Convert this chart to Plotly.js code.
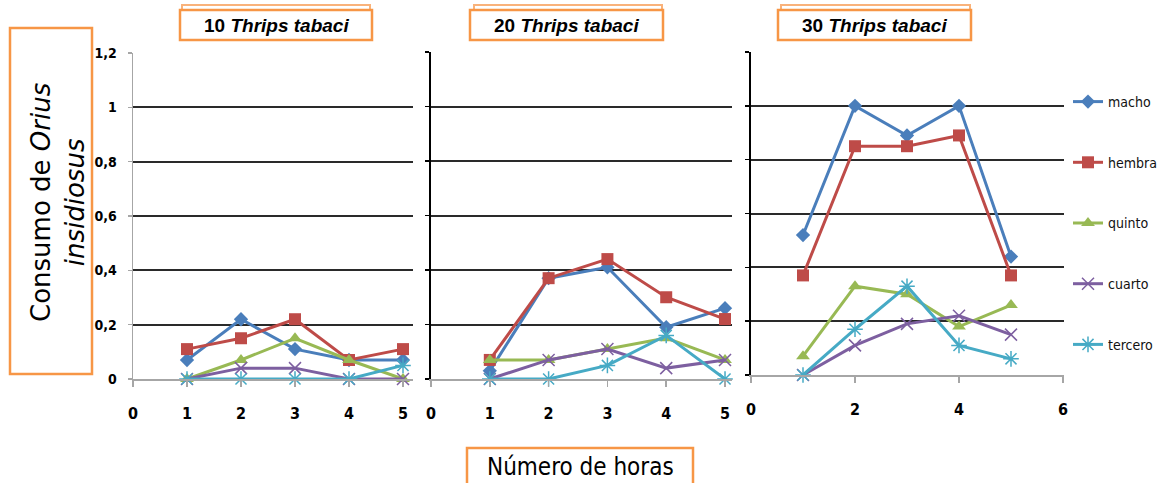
<!DOCTYPE html>
<html>
<head>
<meta charset="utf-8">
<script src="https://cdn.plot.ly/plotly-3.0.1.min.js"></script>
<style>
html,body{margin:0;padding:0;background:#fff;overflow:hidden;}
#chart{width:1161px;height:483px;}
</style>
</head>
<body>
<div id="chart"></div>
<script>
// ---- data ----
const hours = [1, 2, 3, 4, 5];
const seriesNames = ["macho", "hembra", "quinto", "cuarto", "tercero"];
const panelTitles = ["10 <i>Thrips tabaci</i>", "20 <i>Thrips tabaci</i>", "30 <i>Thrips tabaci</i>"];
const yTickVals = [0, 0.2, 0.4, 0.6, 0.8, 1, 1.2];
const yTickText = ["0", "0,2", "0,4", "0,6", "0,8", "1", "1,2"];
const xTickVals5 = [0, 1, 2, 3, 4, 5];
const xTickVals6 = [0, 2, 4, 6];
const yTitle = "Consumo de <i>Orius</i><br><i>insidiosus</i>";
const xTitle = "Número de horas";

const macho10   = [0.07, 0.22, 0.11, 0.07, 0.07];
const hembra10  = [0.11, 0.15, 0.22, 0.07, 0.11];
const quinto10  = [0, 0.07, 0.15, 0.07, 0];
const cuarto10  = [0, 0.04, 0.04, 0, 0];
const tercero10 = [0, 0, 0, 0, 0.05];

const macho20   = [0.03, 0.37, 0.41, 0.19, 0.26];
const hembra20  = [0.07, 0.37, 0.44, 0.30, 0.22];
const quinto20  = [0.07, 0.07, 0.11, 0.15, 0.07];
const cuarto20  = [0, 0.07, 0.11, 0.04, 0.07];
const tercero20 = [0, 0, 0.05, 0.16, 0];

const macho30   = [0.52, 1.0, 0.89, 1.0, 0.44];
const hembra30  = [0.37, 0.85, 0.85, 0.89, 0.37];
const quinto30  = [0.07, 0.33, 0.30, 0.18, 0.26];
const cuarto30  = [0, 0.11, 0.19, 0.22, 0.15];
const tercero30 = [0, 0.17, 0.33, 0.11, 0.06];

// ---- styles ----
const colors = ["#4A7EBB", "#BE4B48", "#98B954", "#7D5FA0", "#46AAC5"];
const symbols = ["diamond", "square", "triangle-up", "x-thin-open", "asterisk-open"];
const msizes = [11, 12, 12, 12, 13];

const W = 1161, H = 483;
const px = v => v / W;
const py = v => 1 - v / H;

const panels = [
  [macho10, hembra10, quinto10, cuarto10, tercero10],
  [macho20, hembra20, quinto20, cuarto20, tercero20],
  [macho30, hembra30, quinto30, cuarto30, tercero30]
];
const axSuffix = ["", "2", "3"];

const traces = [];
panels.forEach((pdata, p) => {
  pdata.forEach((vals, s) => {
    traces.push({
      type: "scatter",
      mode: "lines+markers",
      x: hours,
      y: vals,
      name: seriesNames[s],
      xaxis: "x" + axSuffix[p],
      yaxis: "y" + axSuffix[p],
      showlegend: p === 2,
      legendgroup: "g" + s,
      line: {color: colors[s], width: 3},
      marker: {symbol: symbols[s], size: msizes[s], color: colors[s],
               line: {color: colors[s], width: (s >= 3 ? 1.5 : 0)}},
      cliponaxis: false
    });
  });
});

const narrow = "DejaVu Sans Condensed, Liberation Sans, sans-serif";
const yTickFont = {family: narrow, size: 14, color: "#000", weight: "bold"};
const xTickFont = {family: narrow, size: 16, color: "#000", weight: "bold"};

function yAxisBase(dom, showLabels, lineColor, lineWidth) {
  return {
    domain: dom, range: [0, 1.2], tickvals: yTickVals, ticktext: yTickText,
    showticklabels: showLabels, tickfont: yTickFont,
    showgrid: true, gridcolor: "#2a2a2a", gridwidth: 2,
    zeroline: false, showline: true, linecolor: lineColor, linewidth: lineWidth,
    ticks: "outside", ticklen: 4, tickcolor: lineColor, tickwidth: 1.5,
    fixedrange: true, ticklabelstandoff: 8, automargin: false
  };
}
function xAxisBase(dom, rng, tv, anchor) {
  return {
    domain: dom, range: rng, tickvals: tv, anchor: anchor,
    showgrid: false, zeroline: false, showline: true, linecolor: "#a6a6a6", linewidth: 2,
    ticks: "outside", ticklen: 6, tickcolor: "#a6a6a6", tickwidth: 1.5,
    tickfont: xTickFont, ticklabelstandoff: 13, fixedrange: true, automargin: false
  };
}

const orange = "#F79646";
function box(x0, y0, x1, y1, w, c, fill) {
  return {type: "rect", xref: "paper", yref: "paper", x0: px(x0), x1: px(x1), y0: py(y1), y1: py(y0),
          line: {color: c || orange, width: w || 2.5}, fillcolor: fill || "rgba(255,255,255,0)", layer: "above"};
}
const titleFont = {family: "Liberation Sans, Arial, sans-serif", size: 19, color: "#000", weight: "bold"};
function ann(x, y, text, font, extra) {
  return Object.assign({xref: "paper", yref: "paper", x: px(x), y: py(y), xanchor: "center", yanchor: "middle",
                        text: text, showarrow: false, font: font}, extra || {});
}

const layout = {
  width: W, height: H,
  margin: {l: 0, r: 0, t: 0, b: 0, pad: 0, autoexpand: false},
  paper_bgcolor: "#fff", plot_bgcolor: "#fff",
  separators: ",.",
  xaxis:  xAxisBase([px(133), px(413)], [0, 280 / 54], xTickVals5, "y"),
  yaxis:  yAxisBase([py(379), py(53)], true, "#a6a6a6", 1.5),
  xaxis2: xAxisBase([px(431), px(732)], [0, 302 / 59], xTickVals5, "y2"),
  yaxis2: Object.assign(yAxisBase([py(379), py(52)], false, "#000", 2.5), {anchor: "x2"}),
  xaxis3: xAxisBase([px(751), px(1064)], [0, 313 / 52], xTickVals6, "y3"),
  yaxis3: Object.assign(yAxisBase([py(375), py(52)], false, "#000", 2.5), {anchor: "x3"}),
  showlegend: true,
  legend: {
    x: px(1068), y: py(86), xanchor: "left", yanchor: "top",
    font: {family: narrow, size: 14, color: "#111"},
    tracegroupgap: 39.5, itemwidth: 30, bgcolor: "rgba(0,0,0,0)", traceorder: "grouped"
  },
  shapes: [
    box(182, 5, 370, 38, 2, "#F9B27A"), box(180, 10, 372, 40, 2.5, orange, "#fff"),
    box(474, 5, 662, 38, 2, "#F9B27A"), box(470, 10, 663, 40, 2.5, orange, "#fff"),
    box(781, 5, 970, 38, 2, "#F9B27A"), box(778, 10, 971, 40, 2.5, orange, "#fff"),
    box(10, 28, 92, 374),
    box(467, 448, 693, 490)
  ],
  annotations: [
    ann(276, 25, "<b>" + panelTitles[0] + "</b>", titleFont),
    ann(566, 25, "<b>" + panelTitles[1] + "</b>", titleFont),
    ann(874, 25, "<b>" + panelTitles[2] + "</b>", titleFont),
    ann(58, 203, yTitle, {family: "DejaVu Sans, sans-serif", size: 26, color: "#000"}, {textangle: -90}),
    ann(580, 467, xTitle, {family: narrow, size: 24, color: "#000"})
  ]
};

Plotly.newPlot("chart", traces, layout, {staticPlot: true, displayModeBar: false});
</script>
</body>
</html>
